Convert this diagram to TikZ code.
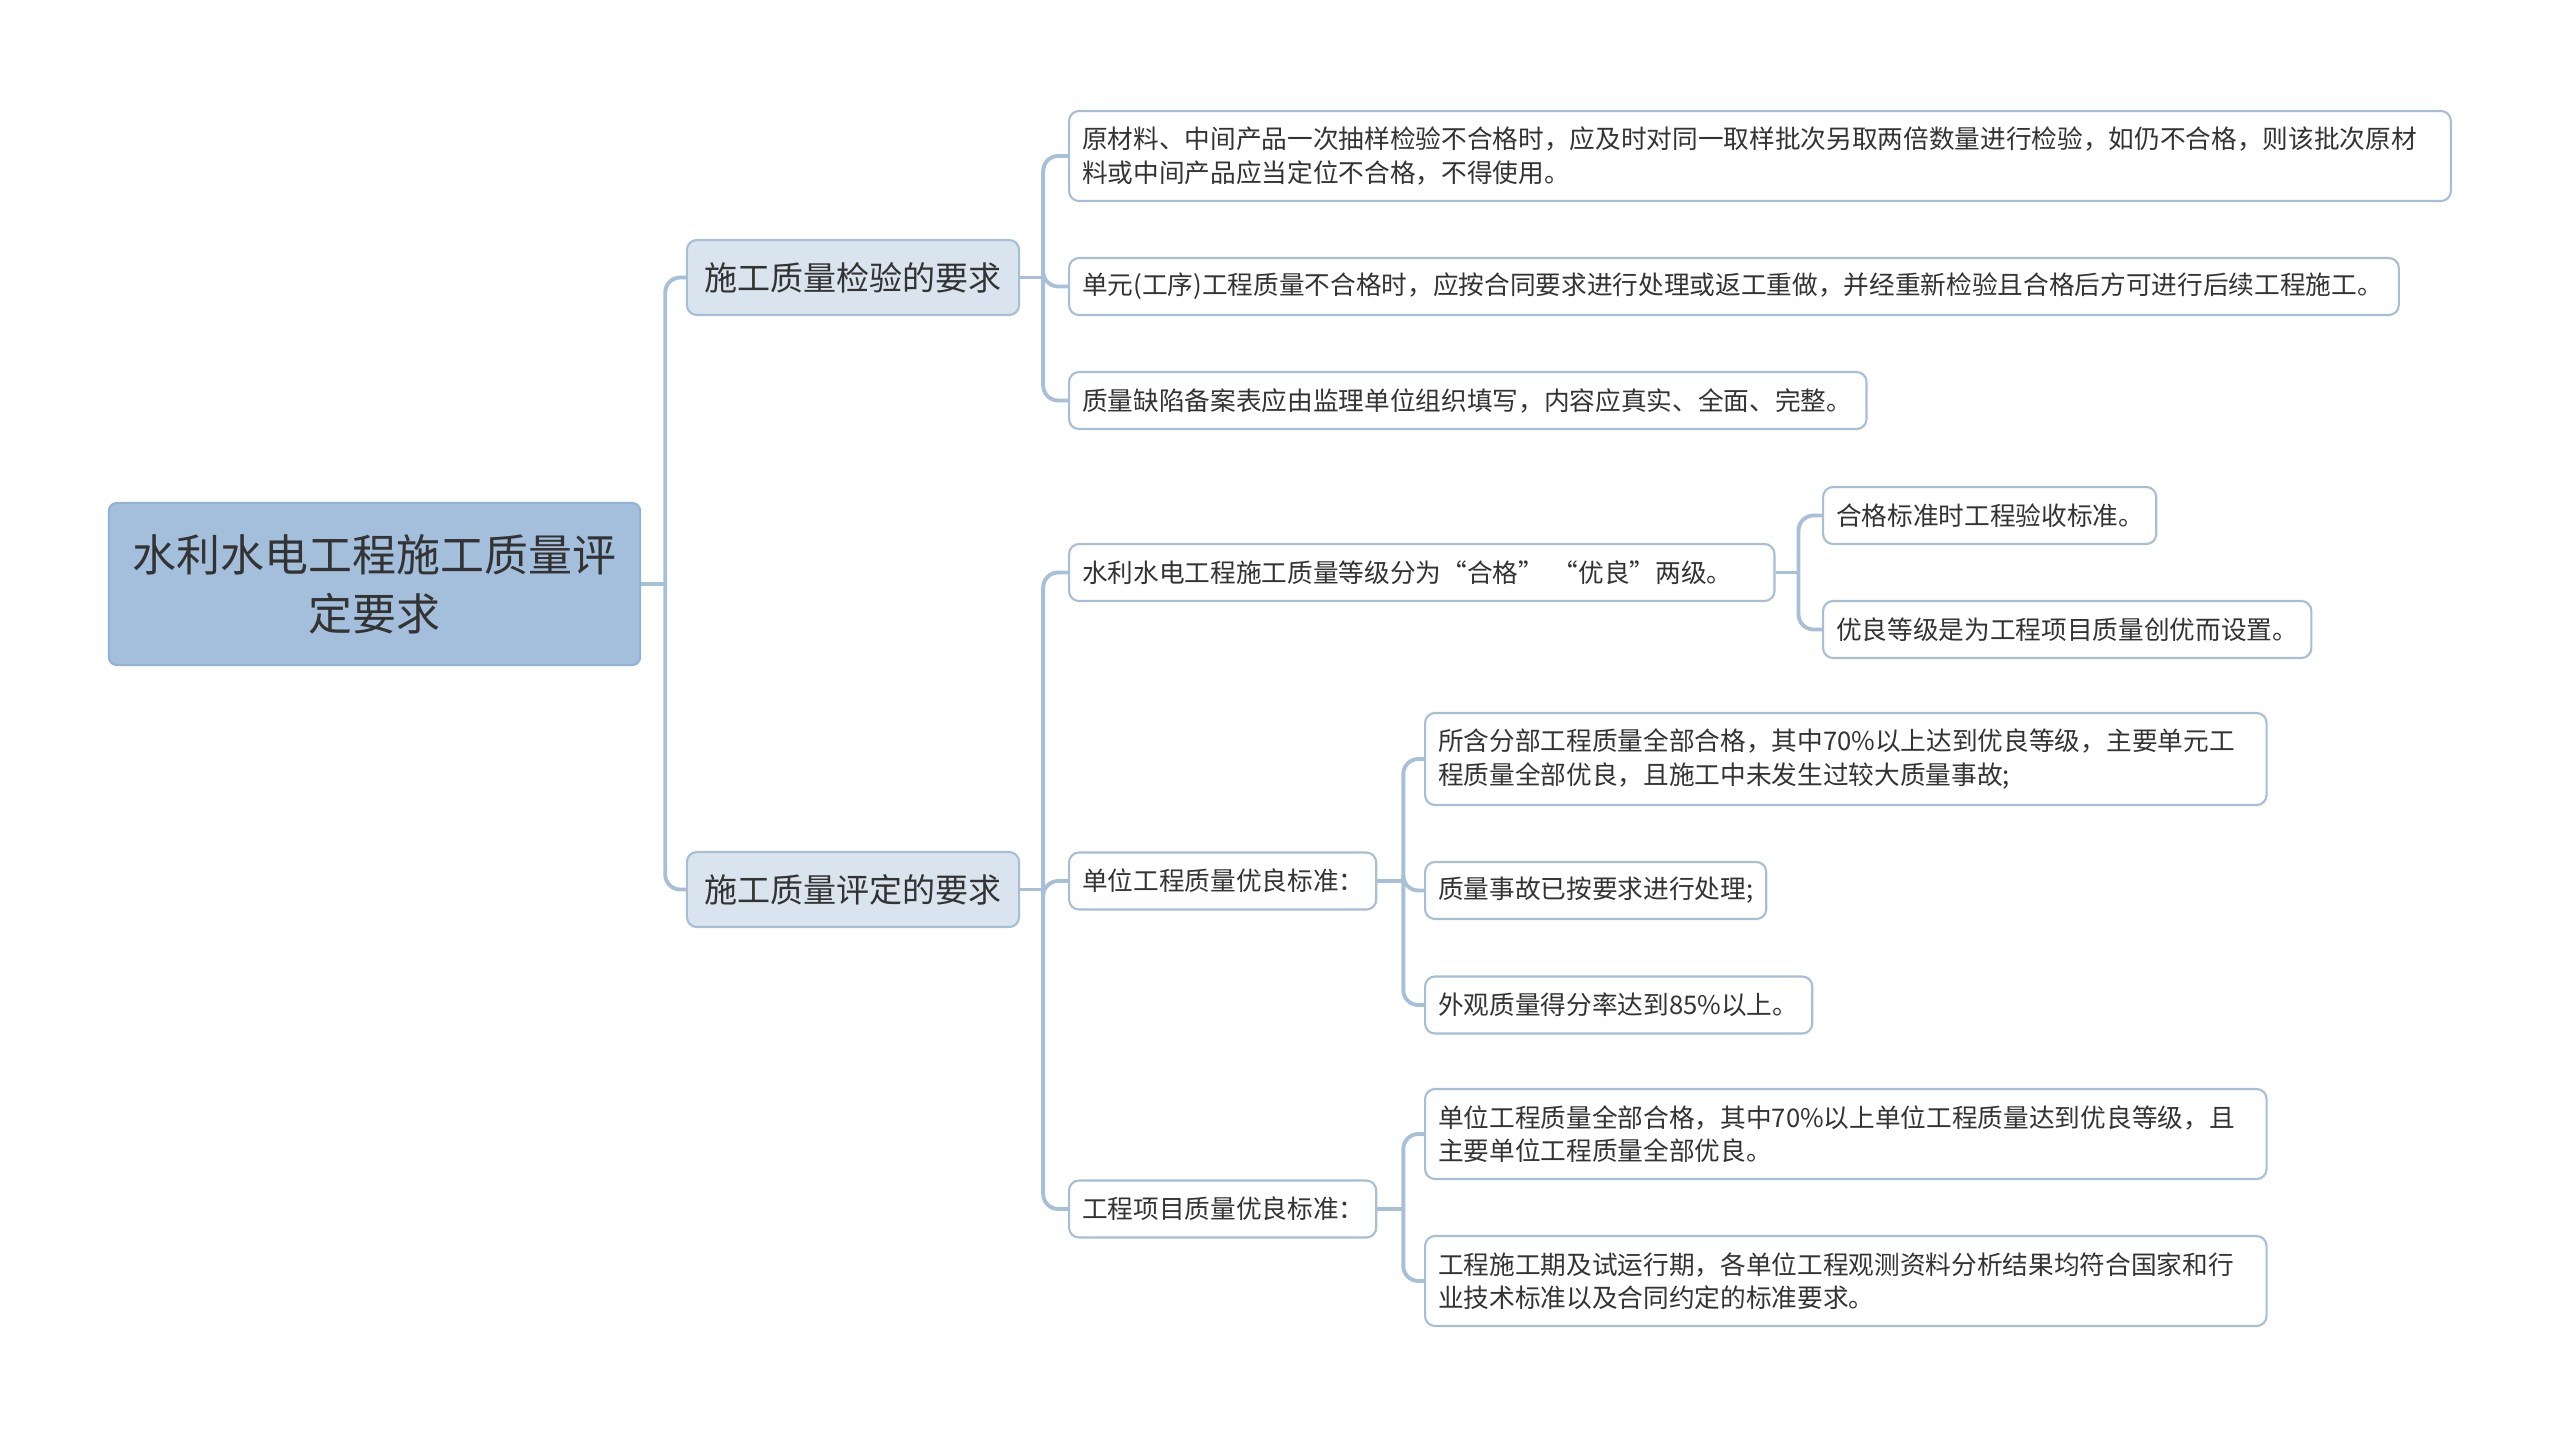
\documentclass[tikz,border=0pt]{standalone}
\usepackage{fontspec}
\setmainfont{Noto Sans CJK SC}
\usepackage{tikz}

\definecolor{rootfill}{HTML}{A4BFDC}
\definecolor{rootline}{HTML}{93B1D1}
\definecolor{mainfill}{HTML}{D9E4EE}
\definecolor{boxline}{HTML}{A7BED5}
\definecolor{wire}{HTML}{A7C0D8}
\definecolor{ink}{HTML}{333333}

\begin{document}
\begin{tikzpicture}[x=0.01cm, y=-0.01cm,
  rootbox/.style={draw=rootline, fill=rootfill, line width=0.6pt, rounded corners=0.08cm,
    minimum width=5.31cm, minimum height=1.62cm, align=center, text=ink,
    font=\fontsize{12.5}{16.8}\selectfont},
  mainbox/.style={draw=boxline, fill=mainfill, line width=0.6pt, rounded corners=0.1cm,
    minimum width=3.32cm, minimum height=0.75cm, align=center, text=ink,
    font=\fontsize{9.4}{11}\selectfont},
  leafbox/.style={draw=boxline, fill=white, line width=0.6pt, rounded corners=0.1cm,
    anchor=west, inner xsep=0.13cm, inner ysep=0pt, minimum height=0.57cm,
    align=left, text=ink, font=\fontsize{7.3}{9.4}\selectfont},
  tallbox/.style={leafbox, minimum height=0.9cm},
  wire/.style={draw=wire, line width=1.1pt, rounded corners=0.15cm}]
  \useasboundingbox (0,0) rectangle (2560,1439);

  \node[rootbox] (root) at (374.5,584) {水利水电工程施工质量评\\定要求};

  \node[mainbox] (check) at (853,277.5) {施工质量检验的要求};
  \node[mainbox] (rate) at (853,889.5) {施工质量评定的要求};

  \node[tallbox, text width=13.55cm] (c1) at (1068,156)
    {原材料、中间产品一次抽样检验不合格时，应及时对同一取样批次另取两倍数量进行检验，如仍不合格，则该批次原材\\料或中间产品应当定位不合格，不得使用。};
  \node[leafbox, text width=13.03cm] (c2) at (1068,286.5)
    {单元(工序)工程质量不合格时，应按合同要求进行处理或返工重做，并经重新检验且合格后方可进行后续工程施工。};
  \node[leafbox, text width=7.71cm] (c3) at (1068,400.5)
    {质量缺陷备案表应由监理单位组织填写，内容应真实、全面、完整。};

  \node[leafbox, text width=6.79cm] (grade) at (1068,572.5)
    {水利水电工程施工质量等级分为“合格”\ “优良”两级。};
  \node[leafbox, text width=2.81cm] (unit) at (1068,881)
    {单位工程质量优良标准：};
  \node[leafbox, text width=2.81cm] (proj) at (1068,1209)
    {工程项目质量优良标准：};

  \node[leafbox, text width=3.07cm] (pass) at (1822,515.5)
    {合格标准时工程验收标准。};
  \node[leafbox, text width=4.62cm] (fine) at (1822,629.5)
    {优良等级是为工程项目质量创优而设置。};

  \node[tallbox, text width=8.15cm, minimum height=0.92cm] (u1) at (1424,759)
    {所含分部工程质量全部合格，其中70\%以上达到优良等级，主要单元工\\程质量全部优良，且施工中未发生过较大质量事故;};
  \node[leafbox, text width=3.15cm] (u2) at (1424,890.5)
    {质量事故已按要求进行处理;};
  \node[leafbox, text width=3.61cm] (u3) at (1424,1005)
    {外观质量得分率达到85\%以上。};

  \node[tallbox, text width=8.15cm] (p1) at (1424,1134)
    {单位工程质量全部合格，其中70\%以上单位工程质量达到优良等级，且\\主要单位工程质量全部优良。};
  \node[tallbox, text width=8.15cm] (p2) at (1424,1281)
    {工程施工期及试运行期，各单位工程观测资料分析结果均符合国家和行\\业技术标准以及合同约定的标准要求。};

  \coordinate (rj) at ([xshift=0.24cm]root.east);
  \coordinate (cj) at ([xshift=0.23cm]check.east);
  \coordinate (tj) at ([xshift=0.23cm]rate.east);
  \coordinate (gj) at ([xshift=0.23cm]grade.east);
  \coordinate (uj) at ([xshift=0.26cm]unit.east);
  \coordinate (pj) at ([xshift=0.26cm]proj.east);

  \draw[wire] (root.east) -- (rj);
  \draw[wire] (rj) |- (check.west);
  \draw[wire] (rj) |- (rate.west);

  \draw[wire] (check.east) -- (cj);
  \draw[wire] (cj) |- (c1.west);
  \draw[wire] (cj) |- (c2.west);
  \draw[wire] (cj) |- (c3.west);

  \draw[wire] (rate.east) -- (tj);
  \draw[wire] (tj) |- (grade.west);
  \draw[wire] (tj) |- (unit.west);
  \draw[wire] (tj) |- (proj.west);

  \draw[wire] (grade.east) -- (gj);
  \draw[wire] (gj) |- (pass.west);
  \draw[wire] (gj) |- (fine.west);

  \draw[wire] (unit.east) -- (uj);
  \draw[wire] (uj) |- (u1.west);
  \draw[wire] (uj) |- (u2.west);
  \draw[wire] (uj) |- (u3.west);

  \draw[wire] (proj.east) -- (pj);
  \draw[wire] (pj) |- (p1.west);
  \draw[wire] (pj) |- (p2.west);
\end{tikzpicture}
\end{document}
